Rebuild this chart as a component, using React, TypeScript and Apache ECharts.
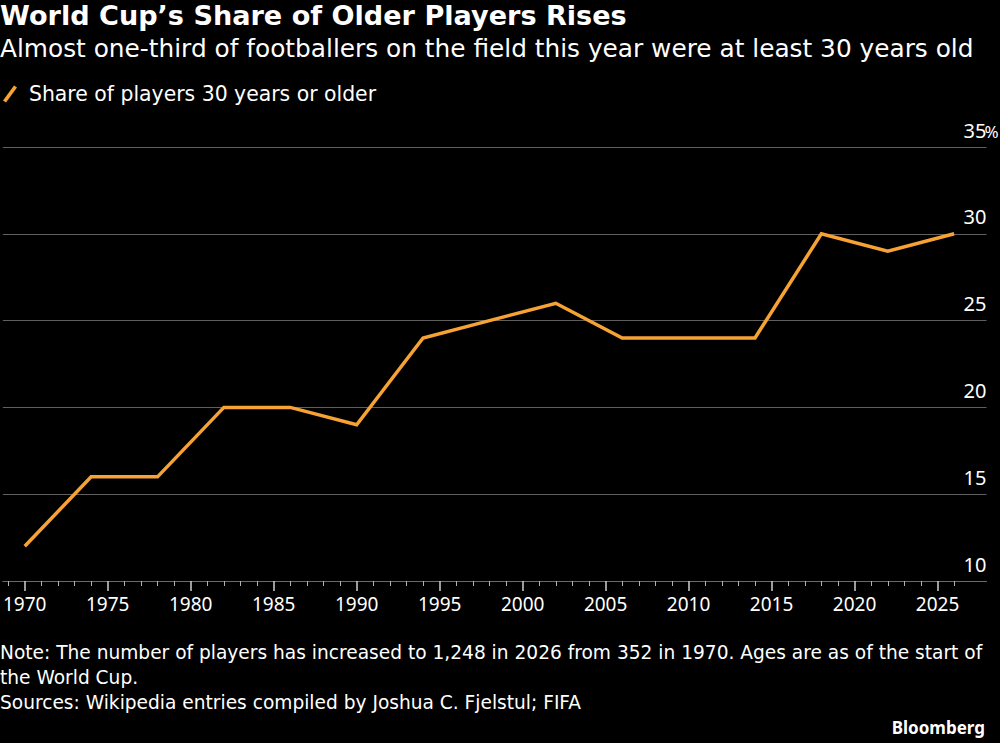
import React, { useEffect, useRef } from "react";
import * as echarts from "echarts";

// World Cup years and share of players aged 30+ (percent)
const years = [1970, 1974, 1978, 1982, 1986, 1990, 1994, 1998, 2002, 2006, 2010, 2014, 2018, 2022, 2026];
const sharePct = [12, 16, 16, 20, 20, 19, 24, 25, 26, 24, 24, 24, 30, 29, 30];

// Axis tick positions
const majorYears = [1970, 1975, 1980, 1985, 1990, 1995, 2000, 2005, 2010, 2015, 2020, 2025];
const minorYears: number[] = [];
for (let y = 1969; y <= 2026; y++) if (y % 5 !== 0) minorYears.push(y);
const yMin = 10;
const yMax = 35;
const yStep = 5;

const seriesName = "Share of players 30 years or older";
const titleText = "World Cup\u2019s Share of Older Players Rises";
const subtitleText = "Almost one-third of footballers on the field this year were at least 30 years old";
const noteLines = [
  "Note: The number of players has increased to 1,248 in 2026 from 352 in 1970. Ages are as of the start of",
  "the World Cup.",
];
const sourceText = "Sources: Wikipedia entries compiled by Joshua C. Fjelstul; FIFA";

const FONT = '"Noto Sans", sans-serif';
const WIDE = '"DejaVu Sans", sans-serif';
const ORANGE = "#f7a234";
const X_MIN = 1968.68;
const X_MAX = 2027.95;

export default function App() {
  const ref = useRef<HTMLDivElement>(null);

  useEffect(() => {
    document.body.style.margin = "0";
    document.body.style.background = "#000";
    if (!ref.current) return;
    const chart = echarts.init(ref.current, null, { renderer: "svg" });

    const data = years.map((y, i) => [y, sharePct[i]]);

    chart.setOption({
      animation: false,
      backgroundColor: "#000",
      textStyle: { fontFamily: FONT },
      grid: { left: 0, right: 13.5, top: 147, bottom: 162, containLabel: false },
      legend: {
        left: 3,
        top: 84,
        padding: 0,
        icon: "path://M0,15 L11,0 L14,2 L3,17 Z",
        itemWidth: 14,
        itemHeight: 17,
        textStyle: { color: "#fff", fontSize: 20.4, fontFamily: WIDE, padding: [0, 0, 0, 7] },
        data: [seriesName],
      },
      xAxis: [
        {
          type: "value",
          min: X_MIN,
          max: X_MAX,
          position: "bottom",
          axisLine: { show: true, lineStyle: { color: "#6a6a6a", width: 1 } },
          axisTick: {
            show: true,
            customValues: majorYears,
            length: 10,
            lineStyle: { color: "#d0d0d0", width: 1.5 },
          },
          axisLabel: {
            customValues: majorYears,
            color: "#fff",
            fontSize: 19,
            fontFamily: FONT,
            margin: 13,
            formatter: (v: number) => String(v),
          },
          splitLine: { show: false },
        },
        {
          type: "value",
          min: X_MIN,
          max: X_MAX,
          position: "bottom",
          offset: 0,
          axisLine: { show: false },
          axisTick: {
            show: true,
            customValues: minorYears,
            length: 5,
            lineStyle: { color: "#b0b0b0", width: 1 },
          },
          axisLabel: { show: false },
          splitLine: { show: false },
        },
      ],
      yAxis: {
        type: "value",
        min: yMin,
        max: yMax,
        interval: yStep,
        position: "right",
        axisLine: { show: false },
        axisTick: { show: false },
        splitLine: { show: true, lineStyle: { color: "#606060", width: 1 } },
        axisLabel: {
          inside: true,
          margin: 0,
          color: "#fff",
          fontSize: 20,
          fontFamily: FONT,
          verticalAlign: "bottom",
          padding: [0, 0, 7, 0],
        },
      },
      series: [
        {
          name: seriesName,
          type: "line",
          data,
          showSymbol: false,
          color: ORANGE,
          lineStyle: { color: ORANGE, width: 3.5, join: "miter" },
        },
      ],
    });

    const right = chart.convertToPixel({ gridIndex: 0 }, [X_MAX, yMax]);

    chart.setOption({
      graphic: [
        {
          id: "title",
          type: "text",
          left: 0,
          top: 2,
          style: { text: titleText, fill: "#fff", fontSize: 27.1, fontWeight: "bold", fontFamily: WIDE },
        },
        {
          id: "subtitle",
          type: "text",
          left: 0,
          top: 36,
          style: { text: subtitleText, fill: "#fff", fontSize: 24.8, fontFamily: WIDE },
        },
        {
          id: "pct",
          type: "text",
          x: right[0] - 2,
          y: right[1] - 7.5,
          style: {
            text: "%",
            fill: "#fff",
            fontSize: 17,
            fontFamily: FONT,
            align: "left",
            verticalAlign: "bottom",
          },
        },
        {
          id: "note",
          type: "text",
          left: 0,
          top: 640,
          style: {
            text: noteLines.join("\n"),
            fill: "#fff",
            fontSize: 18.6,
            lineHeight: 25,
            fontFamily: WIDE,
          },
        },
        {
          id: "source",
          type: "text",
          left: 0,
          top: 693,
          style: { text: sourceText, fill: "#fff", fontSize: 18.6, fontFamily: WIDE },
        },
        {
          id: "brand",
          type: "text",
          right: 15,
          top: 719,
          style: { text: "Bloomberg", fill: "#fff", fontSize: 17, fontWeight: "bold", fontFamily: FONT },
        },
      ],
    });

    return () => chart.dispose();
  }, []);

  return <div ref={ref} style={{ width: 1000, height: 743 }} />;
}
